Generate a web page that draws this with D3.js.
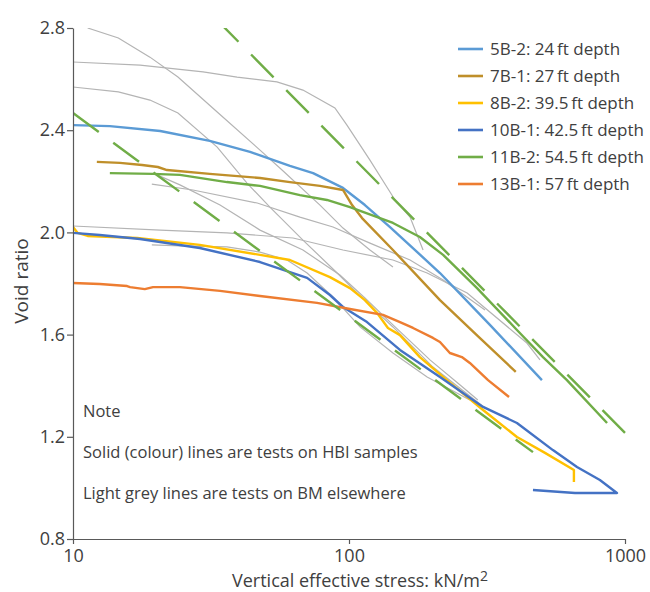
<!DOCTYPE html>
<html>
<head>
<meta charset="utf-8">
<script src="https://cdn.jsdelivr.net/npm/d3@7"></script>
<style>
  body { margin: 0; background: #fff; }
  svg text { font-family: "Open Sans", "Noto Sans", sans-serif; fill: #404040; }
  .axis path, .axis line { stroke: #595959; stroke-width: 1.2; }
</style>
</head>
<body>
<svg width="650" height="592"></svg>
<script>
// test curves, [vertical effective stress kN/m2, void ratio]
var s5B2 = [[10,2.420],[13.6,2.416],[20.7,2.397],[31.3,2.358],[43.8,2.315],[61.1,2.260],[74.1,2.232],[95.1,2.174],[114.2,2.107],[140.8,2.021],[213.6,1.841],[324,1.638],[500,1.422]];
var s7B1 = [[12.2,2.276],[14.8,2.272],[17.8,2.264],[20.3,2.256],[21.9,2.244],[31.3,2.229],[47.6,2.213],[61.1,2.197],[78.5,2.182],[95.1,2.166],[102.6,2.107],[111.5,2.056],[144.3,1.931],[213.6,1.735],[293,1.594],[402,1.454]];
var s8B2 = [[10,2.021],[10.4,1.998],[11.3,1.986],[17.1,1.978],[28.8,1.951],[47.6,1.912],[61.1,1.892],[85.3,1.825],[100.8,1.782],[114.2,1.735],[126.3,1.685],[138.4,1.626],[153,1.598],[180.6,1.512],[226.3,1.422],[306,1.305],[406,1.199],[513,1.137],[653,1.070],[653,1.023]];
var s10B1 = [[10,1.998],[12.5,1.990],[17.5,1.974],[28.8,1.939],[47.6,1.884],[70.5,1.822],[85.3,1.755],[95.1,1.708],[116.2,1.649],[153,1.540],[213.6,1.434],[306,1.317],[406,1.254],[548,1.148],[670,1.082],[811,1.031],[935,0.980],[659,0.980],[464,0.992]];
var s11B2 = [[13.6,2.232],[19.5,2.229],[24.4,2.225],[36.1,2.197],[47.6,2.182],[66.4,2.146],[83.2,2.127],[100.8,2.099],[144.3,2.037],[180.6,1.982],[219.3,1.912],[291,1.782],[406,1.618],[504.5,1.512],[616,1.422],[861,1.254]];
var s13B1 = [[10,1.802],[12.5,1.798],[15.7,1.790],[16.1,1.786],[18.2,1.778],[19.5,1.786],[24.4,1.786],[34.1,1.771],[47.6,1.751],[76.6,1.724],[100.8,1.700],[132.8,1.677],[153,1.649],[170.6,1.626],[201.5,1.587],[213.6,1.571],[232,1.528],[256.4,1.512],[274,1.489],[319,1.422],[380,1.356]];

// 11B-2 bounding lines (dashed); upper one listed from its lower end
var dashUpper = [[1000,1.215],[30,2.88]];
var dashLower = [[10,2.467],[464,1.140]];

// tests on BM elsewhere (grey)
var grey1 = [[11.3,2.800],[14.6,2.761],[19.0,2.686],[24.0,2.608],[33.3,2.471],[47.6,2.322],[57.2,2.244],[78.5,2.107],[95.1,2.017],[119.1,1.931],[144.3,1.865]];
var grey2 = [[10,2.667],[17.5,2.655],[29.6,2.628],[39.3,2.608],[54.8,2.589],[68.1,2.557],[88.9,2.487],[98.3,2.420],[119.1,2.283],[146.8,2.127],[166.4,2.060],[185.5,1.931]];
var grey3 = [[10,2.569],[14.6,2.550],[19.0,2.518],[24.0,2.467],[33.3,2.334],[42.7,2.193],[51.7,2.099],[68.1,1.970],[90.6,1.841],[116.2,1.724],[144.3,1.630],[201.5,1.473],[311,1.313]];
var grey4 = [[19.3,2.189],[27.2,2.166],[46.5,2.115],[66.4,2.060],[87.5,2.021],[119.1,1.958],[166.4,1.892],[219.3,1.814],[311,1.696]];
var grey5 = [[10,2.025],[20.7,2.009],[36.1,1.998],[62.7,1.978],[95.1,1.931],[144.3,1.892],[191.9,1.841],[268,1.763],[441,1.567],[492,1.501]];
var grey6 = [[19.3,1.951],[24.4,1.947],[36.1,1.943],[47.6,1.923],[59.6,1.892],[70.5,1.841],[87.5,1.747],[109.6,1.630],[144.3,1.528],[191.9,1.434],[274,1.344]];
var grey7 = [[19.5,2.232],[24.4,2.186],[34.1,2.107],[47.6,2.009],[68.1,1.931],[92.7,1.833],[114.2,1.743],[144.3,1.638],[196.5,1.501],[252.7,1.403],[293,1.344]];

var seriesNames = ["5B-2: 24\u2009ft depth", "7B-1: 27\u2009ft depth", "8B-2: 39.5\u2009ft depth",
  "10B-1: 42.5\u2009ft depth", "11B-2: 54.5\u2009ft depth", "13B-1: 57\u2009ft depth"];
var seriesColors = ["#5B9BD5", "#BF8F2A", "#FFC000", "#4472C4", "#70AD47", "#ED7D31"];
var seriesData = [s5B2, s7B1, s8B2, s10B1, s11B2, s13B1];
var greyData = [grey1, grey2, grey3, grey4, grey5, grey6, grey7];

var xTicks = [10, 100, 1000];
var yTicks = [0.8, 1.2, 1.6, 2.0, 2.4, 2.8];
var notes = ["Note", "Solid (colour) lines are tests on HBI samples", "Light grey lines are tests on BM elsewhere"];

var svg = d3.select("svg"),
    margin = {top: 28, right: 25, bottom: 53, left: 73},
    width = +svg.attr("width") - margin.left - margin.right,
    height = +svg.attr("height") - margin.top - margin.bottom;

var x = d3.scaleLog().domain([10, 1000]).range([0, width]);
var y = d3.scaleLinear().domain([0.8, 2.8]).range([height, 0]);

var line = d3.line()
    .x(function(d) { return x(d[0]); })
    .y(function(d) { return y(d[1]); });

var g = svg.append("g")
    .attr("transform", "translate(" + margin.left + "," + margin.top + ")");

g.append("clipPath").attr("id", "plot")
  .append("rect").attr("width", width + 2).attr("height", height);

var plot = g.append("g").attr("clip-path", "url(#plot)");

plot.selectAll(".grey")
  .data(greyData)
  .enter().append("path")
    .attr("class", "grey")
    .attr("d", line)
    .attr("fill", "none")
    .attr("stroke", "#B4B4B4")
    .attr("stroke-width", 1.2);

plot.selectAll(".series")
  .data(seriesData)
  .enter().append("path")
    .attr("class", "series")
    .attr("d", line)
    .attr("fill", "none")
    .attr("stroke", function(d, i) { return seriesColors[i]; })
    .attr("stroke-width", 2.4)
    .attr("stroke-linejoin", "round");

plot.selectAll(".bound")
  .data([dashUpper, dashLower])
  .enter().append("path")
    .attr("class", "bound")
    .attr("d", line)
    .attr("fill", "none")
    .attr("stroke", "#70AD47")
    .attr("stroke-width", 2.4)
    .attr("stroke-dasharray", "32,18");

// axes
g.append("g")
    .attr("class", "axis")
    .attr("transform", "translate(0," + height + ")")
    .call(d3.axisBottom(x).tickValues(xTicks).tickFormat(d3.format("d")).tickSize(5).tickSizeOuter(0))
    .call(function(a) {
      a.selectAll("text").attr("font-size", 18).attr("dy", "0.82em");
    });

g.append("g")
    .attr("class", "axis")
    .call(d3.axisLeft(y).tickValues(yTicks).tickFormat(d3.format(".1f")).tickSize(6).tickSizeOuter(0))
    .call(function(a) {
      a.selectAll("text").attr("font-size", 18).attr("x", -8);
    });

// axis titles
var xt = svg.append("text")
    .attr("x", margin.left + x(100) + 11)
    .attr("y", 587)
    .attr("text-anchor", "middle")
    .attr("font-size", 18)
    .text("Vertical effective stress: kN/m");
xt.append("tspan").attr("dy", -6).attr("font-size", 14).text("2");

svg.append("text")
    .attr("transform", "translate(28," + 281 + ") rotate(-90)")
    .attr("text-anchor", "middle")
    .attr("font-size", 19)
    .text("Void ratio");

// note
g.selectAll(".note")
  .data(notes)
  .enter().append("text")
    .attr("class", "note")
    .attr("x", 10)
    .attr("y", function(d, i) { return 389 + i * 41; })
    .attr("font-size", 16.5)
    .text(function(d) { return d; });

// legend
var legend = svg.append("g").attr("transform", "translate(458,49)");
var item = legend.selectAll(".item")
  .data(seriesNames)
  .enter().append("g")
    .attr("transform", function(d, i) { return "translate(0," + i * 27 + ")"; });
item.append("line")
    .attr("x2", 25)
    .attr("stroke", function(d, i) { return seriesColors[i]; })
    .attr("stroke-width", 2.6);
item.append("text")
    .attr("x", 32)
    .attr("dy", "0.35em")
    .attr("font-size", 17)
    .text(function(d) { return d; });
</script>
</body>
</html>
